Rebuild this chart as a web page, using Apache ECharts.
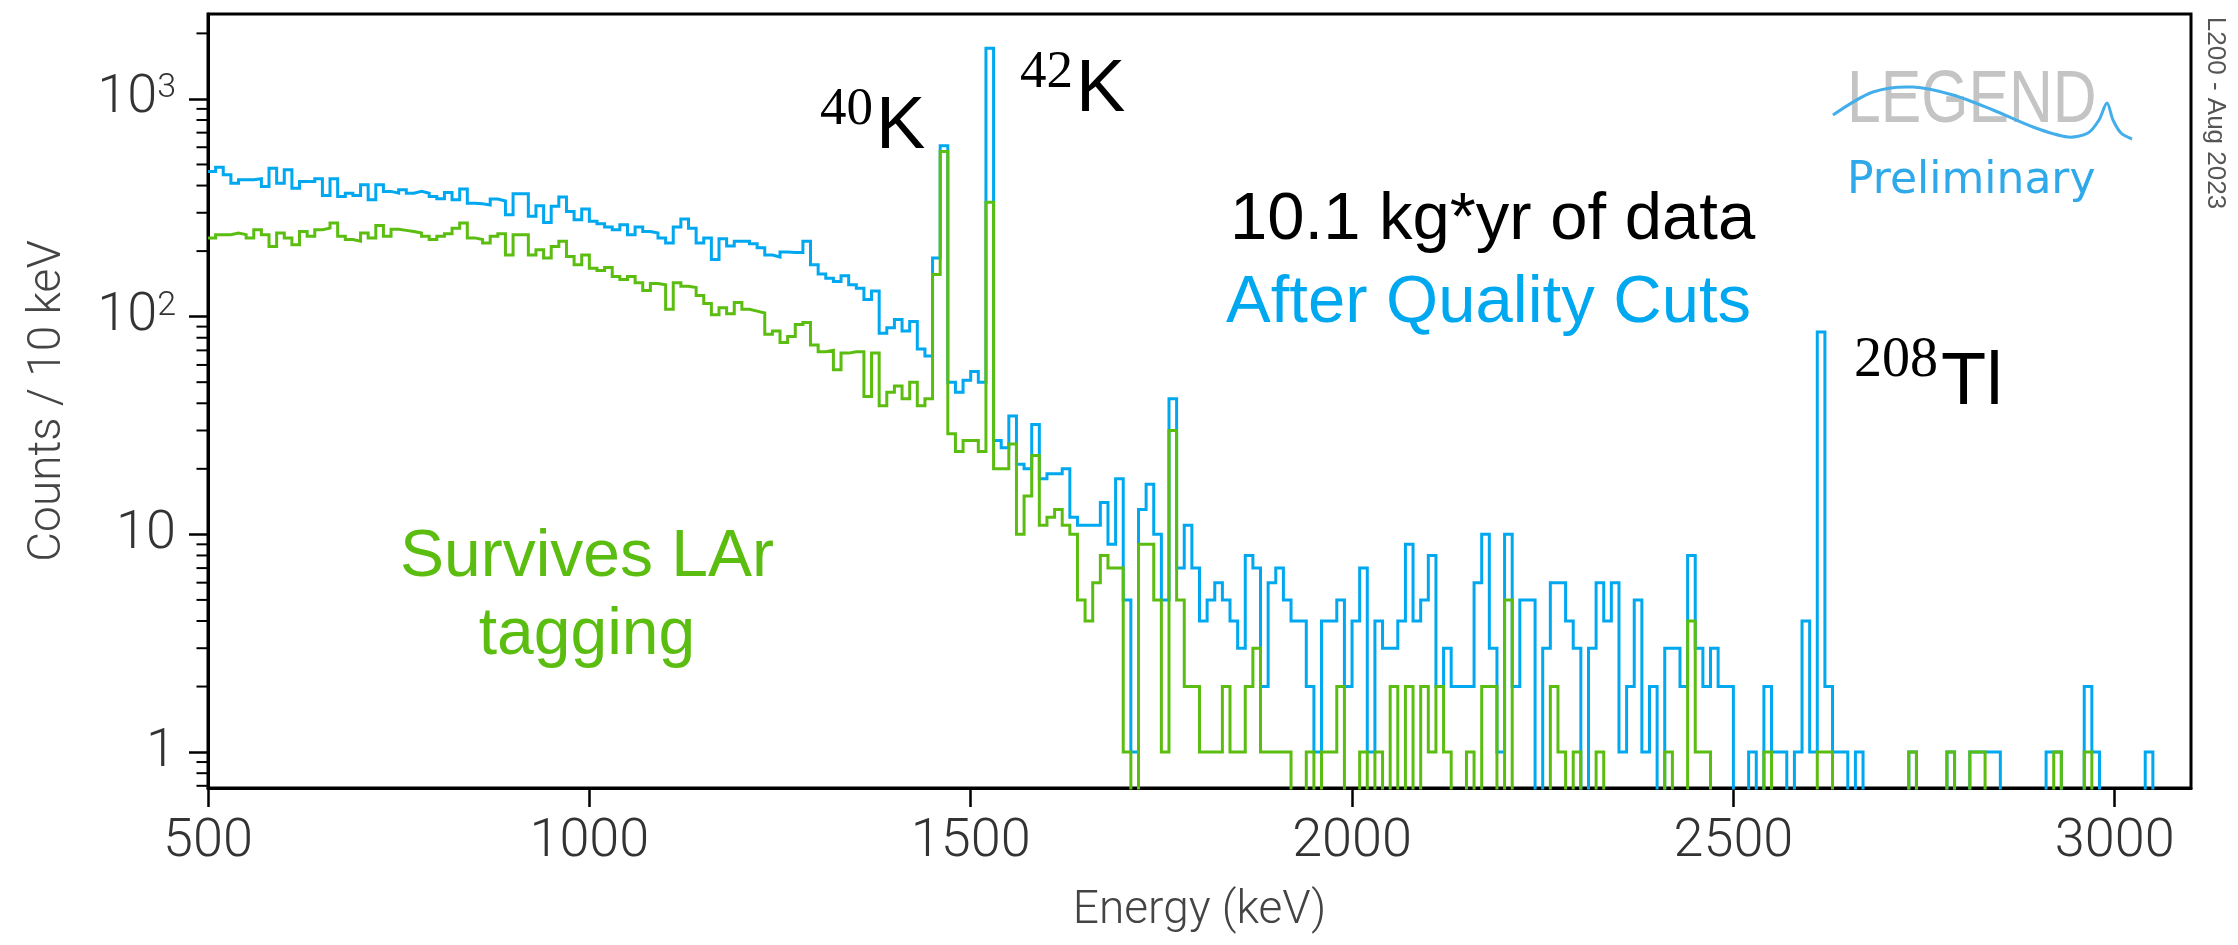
<!DOCTYPE html>
<html>
<head>
<meta charset="utf-8">
<script src="https://cdn.jsdelivr.net/npm/echarts@6/dist/echarts.min.js"></script>
<style>
html,body{margin:0;padding:0;background:#ffffff;}
#chart{width:2238px;height:945px;}
</style>
</head>
<body>
<div id="chart"></div>
<script>
// ---- histogram binning (keV) ----
const BIN_START = 500;
const BIN_WIDTH = 10;
const X_MIN = 500, X_MAX = 3100;
const Y_MIN = 0.684, Y_MAX = 2455;

// ---- tick labels ----
const xTickValues = [500, 1000, 1500, 2000, 2500, 3000];
const yMajorValues = [1, 10, 100, 1000];
const yMinorValues = [0.7, 0.8, 0.9, 2, 3, 4, 5, 6, 7, 8, 9, 20, 30, 40, 50, 60, 70, 80, 90,
                      200, 300, 400, 500, 600, 700, 800, 900, 2000];

// ---- counts / 10 keV : After Quality Cuts (blue) ----
const qc_0500_0990 = [464,486,448,410,425,425,430,396,481,410, 473,389,418,418,430,360,430,356,369,360,
                      403,344,403,376,369,383,369,376,369,356, 348,372,344,386,332,330,326,347,340,294,
                      367,367,289,323,271,321,354,304,279,312];
const qc_1000_1490 = [274,267,258,251,264,238,258,246,242,230, 218,258,281,255,218,230,183,228,211,222,
                      222,216,207,192,188,198,197,197,222,173, 157,150,145,154,140,135,120,131,84,89,
                      97,86,95,71,66,186,610,50,45,51];
const qc_1500_1990 = [56,50,1710,27,25,35,21,20,32,18, 19,19,20,12,11,11,11,14,9,18,
                      5,1,13,17,10,5,42,7,11,7, 4,5,6,5,4,3,8,7,2,6,
                      7,5,4,4,2,1,4,4,5,2];
const qc_2000_2490 = [4,7,1,4,3,3,4,9,4,5, 8,2,3,2,2,2,6,10,3,1,
                      10,2,5,5,0,3,6,6,4,3, 0,3,6,4,6,1,2,5,1,2,
                      0,3,3,2,8,3,2,3,2,2];
const qc_2500_3090 = [0,0,1,0,2,1,1,0,1,4, 1,85,2,1,1,0,1,0,0,0,
                      0,0,0,1,0,0,0,0,1,0, 0,1,1,1,1,0,0,0,0,0,
                      0,1,1,0,0,0,2,1,0,0, 0,0,0,0,1,0,0,0,0,0];

// ---- counts / 10 keV : Survives LAr tagging (green) ----
const lar_0500_0990 = [230,238,238,242,238,230,251,238,210,242, 230,214,246,234,251,255,269,234,226,222,
                       242,230,262,234,252,249,246,242,234,226, 234,240,255,269,230,226,218,234,240,192,
                       238,238,192,203,186,210,222,189,173,192];
const lar_1000_1490 = [167,163,168,153,148,153,143,132,142,140, 108,143,138,136,125,115,102,110,103,116,
                       108,106,104,83,86,76,81,92,94,74, 69,70,57,68,69,69,43,68,39,45,
                       48,42,50,39,42,156,573,29,24,27];
const lar_1500_1990 = [27,24,335,20,20,26,10,15,23,11, 12,13,11,10,5,4,6,8,7,7,
                       1,0,9,9,5,1,30,5,2,2, 1,1,1,2,1,1,2,3,1,1,
                       1,1,0,0,1,0,1,1,2,0];
const lar_2000_2490 = [0,1,0,1,0,2,0,2,0,2, 1,2,1,0,0,1,0,2,2,0,
                       5,0,0,0,0,0,2,1,0,1, 0,0,1,0,0,0,0,0,0,0,
                       0,1,0,0,4,1,1,0,0,0];
const lar_2500_3090 = [0,0,0,0,1,0,0,0,0,0, 0,1,1,0,0,0,0,0,0,0,
                       0,0,0,1,0,0,0,0,1,0, 0,1,1,0,0,0,0,0,0,0,
                       0,0,1,0,0,0,1,0,0,0, 0,0,0,0,0,0,0,0,0,0];

const qcCounts  = [].concat(qc_0500_0990, qc_1000_1490, qc_1500_1990, qc_2000_2490, qc_2500_3090);
const larCounts = [].concat(lar_0500_0990, lar_1000_1490, lar_1500_1990, lar_2000_2490, lar_2500_3090);

// Empty bins cannot sit on a log axis: send them far below the axis floor (clipped by the grid)
const FLOOR = 1e-3;
function stepData(counts) {
  const pts = counts.map((c, i) => [BIN_START + i * BIN_WIDTH, c > 0 ? c : FLOOR]);
  const last = counts[counts.length - 1];
  pts.push([BIN_START + counts.length * BIN_WIDTH, last > 0 ? last : FLOOR]);
  return pts;
}

const BLUE = '#00a8f0';
const GREEN = '#5bbd10';
const AXIS_FONT = 'Roboto';
const MINOR_TICK_LEN = 10;

const chart = echarts.init(document.getElementById('chart'), null, {renderer: 'canvas'});

const option = {
  animation: false,
  backgroundColor: '#ffffff',
  grid: {
    left: 208, right: 47, top: 14, bottom: 157,
    show: true, borderColor: '#000', borderWidth: 3,
    containLabel: false, outerBoundsMode: 'none'
  },
  xAxis: {
    type: 'value', min: X_MIN, max: X_MAX,
    axisLine: {show: true, onZero: false, lineStyle: {color: '#000', width: 3}},
    axisTick: {show: true, inside: false, length: 19, customValues: xTickValues,
               lineStyle: {color: '#000', width: 2.5}},
    axisLabel: {customValues: xTickValues, margin: 27, color: '#333',
                fontFamily: AXIS_FONT, fontWeight: 300, fontSize: 54,
                formatter: function (v) { return String(Math.round(v)); }},
    splitLine: {show: false},
    name: 'Energy (keV)', nameLocation: 'middle', nameGap: 100,
    nameTextStyle: {color: '#444', fontFamily: AXIS_FONT, fontWeight: 300, fontSize: 46}
  },
  yAxis: {
    type: 'log', logBase: 10, min: Y_MIN, max: Y_MAX, position: 'left',
    axisLine: {show: true, lineStyle: {color: '#000', width: 3}},
    axisTick: {show: true, inside: false, length: 19, customValues: yMajorValues,
               lineStyle: {color: '#000', width: 2.5}},
    axisLabel: {
      customValues: yMajorValues, margin: 32, color: '#333',
      fontFamily: AXIS_FONT, fontWeight: 300, fontSize: 54,
      formatter: function (v) {
        const e = Math.round(Math.log10(v));
        if (e >= 2) return '{m|10}{s|' + e + '}';
        return '{m|' + Math.round(v) + '}';
      },
      rich: {
        m: {fontFamily: AXIS_FONT, fontWeight: 300, fontSize: 54, color: '#333'},
        s: {fontFamily: AXIS_FONT, fontWeight: 300, fontSize: 34, color: '#333',
            verticalAlign: 'top', lineHeight: 28}
      }
    },
    splitLine: {show: false},
    name: 'Counts / 10 keV', nameLocation: 'middle', nameGap: 137, nameRotate: 90,
    nameTextStyle: {color: '#444', fontFamily: AXIS_FONT, fontWeight: 300, fontSize: 46}
  },
  series: [{
    name: 'After Quality Cuts', type: 'line', step: 'end',
    data: stepData(qcCounts),
    showSymbol: false, symbol: 'none', clip: true, z: 2,
    lineStyle: {color: BLUE, width: 3, join: 'miter', cap: 'butt'}
  }, {
    name: 'Survives LAr tagging', type: 'line', step: 'end',
    data: stepData(larCounts),
    showSymbol: false, symbol: 'none', clip: true, z: 3,
    lineStyle: {color: GREEN, width: 3, join: 'miter', cap: 'butt'}
  }, {
    // minor ticks of the log axis, positioned through the axis scale
    name: 'minorTicks', type: 'custom', coordinateSystem: 'cartesian2d',
    silent: true, clip: false, z: 20,
    data: yMinorValues.map(v => [X_MIN, v]),
    renderItem: function (params, api) {
      const p = api.coord([api.value(0), api.value(1)]);
      return {
        type: 'rect',
        shape: {x: p[0] - 1.5 - MINOR_TICK_LEN, y: p[1] - 1, width: MINOR_TICK_LEN + 1.5, height: 2},
        style: {fill: '#000'},
        z2: 100
      };
    }
  }],
  graphic: {
    elements: [
      // isotope annotations
      {type: 'text', x: 820, y: 110, style: {text: '40', font: '53px "Liberation Serif"', fill: '#000', align: 'left', verticalAlign: 'middle'}},
      {type: 'text', x: 876, y: 128, style: {text: 'K', font: '74px "Liberation Sans"', fill: '#000', align: 'left', verticalAlign: 'middle'}},
      {type: 'text', x: 1020, y: 73, style: {text: '42', font: '53px "Liberation Serif"', fill: '#000', align: 'left', verticalAlign: 'middle'}},
      {type: 'text', x: 1076, y: 91, style: {text: 'K', font: '74px "Liberation Sans"', fill: '#000', align: 'left', verticalAlign: 'middle'}},
      {type: 'text', x: 1854, y: 361, style: {text: '208', font: '56px "Liberation Serif"', fill: '#000', align: 'left', verticalAlign: 'middle'}},
      {type: 'text', x: 1941, y: 384, style: {text: 'Tl', font: '74px "Liberation Sans"', fill: '#000', align: 'left', verticalAlign: 'middle'}},
      // exposure / cut labels
      {type: 'text', x: 1230, y: 221, style: {text: '10.1 kg*yr of data', font: '67px "Liberation Sans"', fill: '#000', align: 'left', verticalAlign: 'middle'}},
      {type: 'text', x: 1226, y: 304, style: {text: 'After Quality Cuts', font: '67px "Liberation Sans"', fill: BLUE, align: 'left', verticalAlign: 'middle'}},
      {type: 'text', x: 587, y: 558, style: {text: 'Survives LAr', font: '66px "Liberation Sans"', fill: GREEN, align: 'center', verticalAlign: 'middle'}},
      {type: 'text', x: 587, y: 636, style: {text: 'tagging', font: '66px "Liberation Sans"', fill: GREEN, align: 'center', verticalAlign: 'middle'}},
      // LEGEND logo
      {type: 'text', x: 1847, y: 102, scaleX: 0.82, scaleY: 1,
       style: {text: 'LEGEND', font: '74px "Liberation Sans"', fill: '#c4c4c4', align: 'left', verticalAlign: 'middle'}},
      {type: 'polyline', shape: {points: [[1833,115],[1873,92],[1913,87],[1953,95],[1993,110],[2033,127],[2068,137],[2088,133],[2099,120],[2107,103],[2113,120],[2121,133],[2132,139]], smooth: 0.3},
       style: {stroke: '#43aeea', lineWidth: 3, fill: null}, z: 10},
      {type: 'text', x: 1847, y: 182, style: {text: 'Preliminary', font: '44px "DejaVu Sans"', fill: '#2fa9ea', align: 'left', verticalAlign: 'middle'}},
      // stamp
      {type: 'text', x: 2215, y: 113, rotation: -Math.PI / 2,
       style: {text: 'L200 - Aug 2023', font: '26px "Liberation Sans"', fill: '#555', align: 'center', verticalAlign: 'middle'}}
    ]
  }
};
chart.setOption(option);
</script>
</body>
</html>
